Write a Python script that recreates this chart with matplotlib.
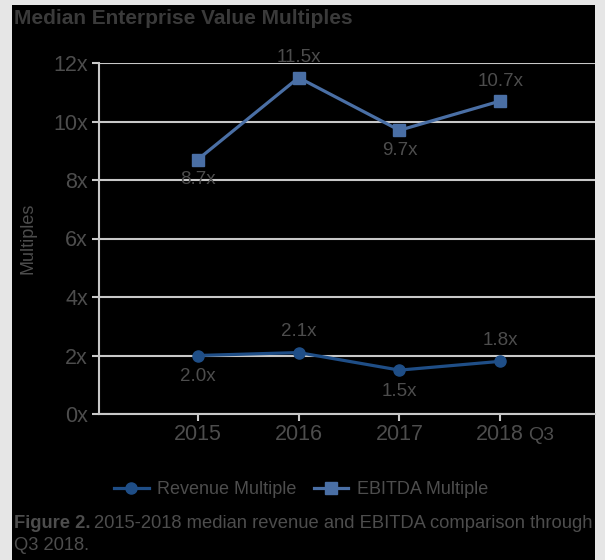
import matplotlib.pyplot as plt
import numpy as np

# data
years = ["2015", "2016", "2017", "2018"]
revenue = [2.0, 2.1, 1.5, 1.8]
ebitda = [8.7, 11.5, 9.7, 10.7]
rev_labels = ["2.0x", "2.1x", "1.5x", "1.8x"]
ebitda_labels = ["8.7x", "11.5x", "9.7x", "10.7x"]
yticks = [0, 2, 4, 6, 8, 10, 12]

grey = "#4d4d4d"
rev_col = "#1f4e87"
ebitda_col = "#4a6fa5"

plt.rcParams['font.family'] = ['Liberation Sans', 'DejaVu Sans']

fig = plt.figure(figsize=(6.05, 5.6), dpi=100, facecolor="#e6e6e6")
# black panel behind everything
fig.patches.append(plt.Rectangle((12 / 605, 0), 583 / 605, 555 / 560, transform=fig.transFigure,
                                 facecolor="black", edgecolor="none", zorder=-10))

ax = fig.add_axes([99 / 605, 1 - 414 / 560, (595 - 99) / 605, (414 - 63) / 560])
ax.set_facecolor("black")

x = np.arange(len(years))
ax.plot(x, revenue, color=rev_col, lw=2.3, marker="o", ms=8, label="Revenue Multiple", zorder=3)
ax.plot(x, ebitda, color=ebitda_col, lw=2.3, marker="s", ms=8, label="EBITDA Multiple", zorder=3)

# value labels (below / above the point, as in the reference)
pos = [-1, 1, -1, 1]
for i in range(len(years)):
    ax.text(x[i], revenue[i] + pos[i] * 0.72, rev_labels[i], ha="center", va="center",
            color=grey, fontsize=13.5)
    ax.text(x[i], ebitda[i] + pos[i] * 0.68, ebitda_labels[i], ha="center", va="center",
            color=grey, fontsize=13.5)

ax.set_xlim(-0.98, 3.94)
ax.set_ylim(0, 12)
ax.set_yticks(yticks)
ax.set_yticklabels([f"{t}x" for t in yticks])
ax.set_xticks(x)
ax.set_xticklabels(years)
# "Q3" suffix after the last year label
ax.annotate("Q3", xy=(x[-1], 0), xycoords=("data", "axes fraction"), xytext=(29.5, -15.5),
            textcoords="offset points", ha="center", va="center", color=grey, fontsize=14)

ax.grid(axis="y", color="#c8c8c8", lw=1.5)
ax.set_axisbelow(True)
for s in ["top", "right"]:
    ax.spines[s].set_visible(False)
for s in ["left", "bottom"]:
    ax.spines[s].set_color("#c8c8c8")
    ax.spines[s].set_linewidth(1.5)
ax.tick_params(colors="#c8c8c8", width=1.5, length=5, labelcolor=grey, labelsize=15.5)
ax.tick_params(axis="x", pad=2)
ax.tick_params(axis="y", pad=3)
ax.set_ylabel("Multiples", color=grey, fontsize=13)
ax.yaxis.set_label_coords(-0.125, 0.5)

fig.legend(loc="center", bbox_to_anchor=(301 / 605, 1 - 490 / 560), ncol=2, frameon=False,
           fontsize=13, labelcolor=grey, handlelength=1.9, columnspacing=1.0, handletextpad=0.45)

fig.text(14 / 605, 1 - 18 / 560, "Median Enterprise Value Multiples", color="#3a3a3a",
         fontsize=15, fontweight="bold", va="center")
bold = fig.text(14 / 605, 1 - 524 / 560, "Figure 2.", color=grey, fontsize=13.2,
                fontweight="bold", va="center")
fig.canvas.draw()
bb = bold.get_window_extent()
fig.text((bb.x1 + 4) / 605, 1 - 524 / 560,
         "2015-2018 median revenue and EBITDA comparison through",
         color=grey, fontsize=13.2, va="center")
fig.text(14 / 605, 1 - 545 / 560, "Q3 2018.", color=grey, fontsize=13.2, va="center")

fig.savefig("out.png", dpi=100, facecolor=fig.get_facecolor())
